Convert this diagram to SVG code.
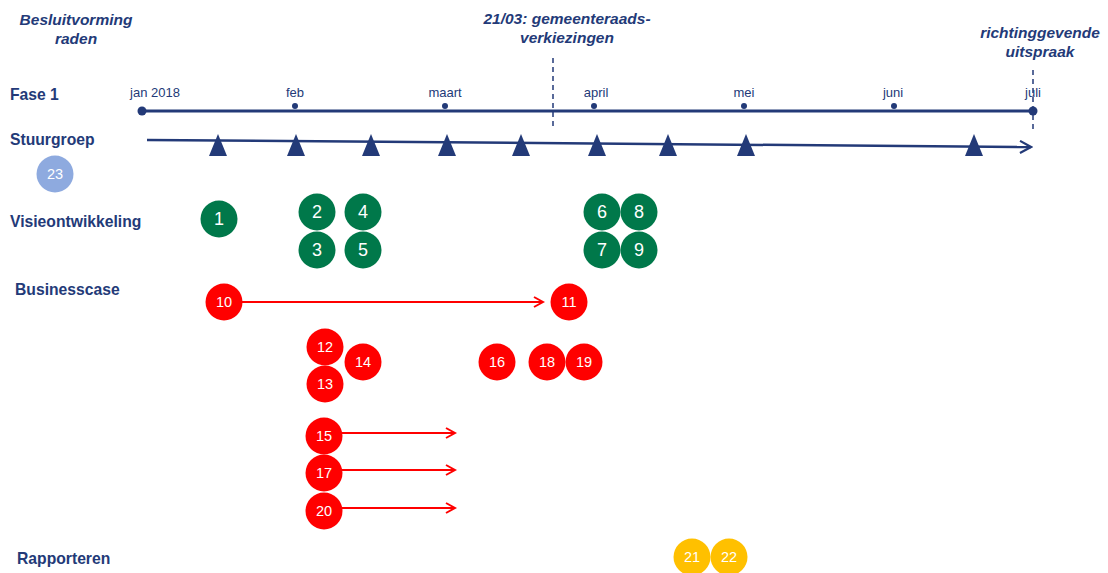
<svg xmlns="http://www.w3.org/2000/svg" width="1108" height="573" viewBox="0 0 1108 573">
<style>
.lbl{font-family:"Liberation Sans",Arial,sans-serif;font-weight:bold;font-size:15.7px;fill:#233a78}
.ann{font-family:"Liberation Sans",Arial,sans-serif;font-weight:bold;font-style:italic;font-size:15.5px;fill:#233a78;text-anchor:middle}
.mon{font-family:"Liberation Sans",Arial,sans-serif;font-size:13px;fill:#233a78;text-anchor:middle}
.g circle{fill:#00784a}
.r circle{fill:#ff0000}
.y circle{fill:#ffc000}
.b circle{fill:#8eaadf}
.g text{font-family:"Liberation Sans",Arial,sans-serif;font-size:18px;fill:#fff;text-anchor:middle}
.r text,.y text,.b text{font-family:"Liberation Sans",Arial,sans-serif;font-size:14.5px;fill:#fff;text-anchor:middle}
.tri{fill:#233a78}
.dash{stroke:#233a78;stroke-width:1.5;stroke-dasharray:5,4;fill:none}
</style>
<defs>
<marker id="ar" markerWidth="12" markerHeight="12" refX="10" refY="6" orient="auto" markerUnits="userSpaceOnUse">
<path d="M1,1 L10,6 L1,11" fill="none" stroke="#ff0000" stroke-width="2"/>
</marker>
<marker id="an" markerWidth="14" markerHeight="14" refX="12" refY="7" orient="auto" markerUnits="userSpaceOnUse">
<path d="M1,1 L12,7 L1,13" fill="none" stroke="#233a78" stroke-width="2.2"/>
</marker>
</defs>
<rect width="1108" height="573" fill="#fff"/>
<g id="annotations">
<text class="ann" x="76" y="25">Besluitvorming</text>
<text class="ann" x="76" y="44">raden</text>
<text class="ann" x="567" y="24">21/03: gemeenteraads-</text>
<text class="ann" x="567" y="43">verkiezingen</text>
<text class="ann" x="1040" y="38">richtinggevende</text>
<text class="ann" x="1040" y="57">uitspraak</text>
</g>
<g id="row-labels">
<text class="lbl" x="10" y="100">Fase 1</text>
<text class="lbl" x="10" y="145">Stuurgroep</text>
<text class="lbl" x="10" y="227">Visieontwikkeling</text>
<text class="lbl" x="15" y="295">Businesscase</text>
<text class="lbl" x="17" y="564">Rapporteren</text>
</g>
<g id="timeline">
<line x1="142" y1="111" x2="1033" y2="111" stroke="#233a78" stroke-width="3"/>
<circle cx="142" cy="111" r="4.5" fill="#233a78"/>
<circle cx="1033" cy="111" r="4.5" fill="#233a78"/>
<circle cx="295" cy="106" r="3" fill="#233a78"/>
<circle cx="445" cy="106" r="3" fill="#233a78"/>
<circle cx="594" cy="106" r="3" fill="#233a78"/>
<circle cx="744" cy="106" r="3" fill="#233a78"/>
<circle cx="894" cy="106" r="3" fill="#233a78"/>
<text class="mon" x="155" y="97">jan 2018</text>
<text class="mon" x="295" y="97">feb</text>
<text class="mon" x="445" y="97">maart</text>
<text class="mon" x="596" y="97">april</text>
<text class="mon" x="744" y="97">mei</text>
<text class="mon" x="893" y="97">juni</text>
<text class="mon" x="1033" y="97">juli</text>
<line class="dash" x1="553" y1="58" x2="553" y2="127"/>
<line class="dash" x1="1033" y1="70" x2="1033" y2="130"/>
</g>
<g id="stuurgroep">
<line x1="147" y1="140" x2="1031" y2="147" stroke="#233a78" stroke-width="2.5" marker-end="url(#an)"/>
<polygon class="tri" points="218,134 209,156 227,156"/>
<polygon class="tri" points="296,134 287,156 305,156"/>
<polygon class="tri" points="371,134 362,156 380,156"/>
<polygon class="tri" points="447,134 438,156 456,156"/>
<polygon class="tri" points="521,134 512,156 530,156"/>
<polygon class="tri" points="597,134 588,156 606,156"/>
<polygon class="tri" points="668,134 659,156 677,156"/>
<polygon class="tri" points="746,134 737,156 755,156"/>
<polygon class="tri" points="974,134 965,156 983,156"/>
</g>
<g id="connectors" stroke="#ff0000" stroke-width="2" fill="none">
<line x1="242" y1="302" x2="543" y2="302" marker-end="url(#ar)"/>
<line x1="342" y1="433" x2="455" y2="433" marker-end="url(#ar)"/>
<line x1="342" y1="470" x2="455" y2="470" marker-end="url(#ar)"/>
<line x1="342" y1="508" x2="455" y2="508" marker-end="url(#ar)"/>
</g>
<g id="n23" class="b"><circle cx="55" cy="174" r="18.5"/><text x="55" y="179">23</text></g>
<g id="n1" class="g"><circle cx="219" cy="219" r="18.5"/><text x="219" y="225">1</text></g>
<g id="n2" class="g"><circle cx="317" cy="212" r="18.5"/><text x="317" y="218">2</text></g>
<g id="n3" class="g"><circle cx="317" cy="250" r="18.5"/><text x="317" y="256">3</text></g>
<g id="n4" class="g"><circle cx="363" cy="212" r="18.5"/><text x="363" y="218">4</text></g>
<g id="n5" class="g"><circle cx="363" cy="250" r="18.5"/><text x="363" y="256">5</text></g>
<g id="n6" class="g"><circle cx="602" cy="212" r="18.5"/><text x="602" y="218">6</text></g>
<g id="n7" class="g"><circle cx="602" cy="250" r="18.5"/><text x="602" y="256">7</text></g>
<g id="n8" class="g"><circle cx="639" cy="212" r="18.5"/><text x="639" y="218">8</text></g>
<g id="n9" class="g"><circle cx="639" cy="250" r="18.5"/><text x="639" y="256">9</text></g>
<g id="n10" class="r"><circle cx="224" cy="302" r="18.5"/><text x="224" y="307">10</text></g>
<g id="n11" class="r"><circle cx="569" cy="302" r="18.5"/><text x="569" y="307">11</text></g>
<g id="n12" class="r"><circle cx="325" cy="347" r="18.5"/><text x="325" y="352">12</text></g>
<g id="n13" class="r"><circle cx="325" cy="384" r="18.5"/><text x="325" y="389">13</text></g>
<g id="n14" class="r"><circle cx="363" cy="362" r="18.5"/><text x="363" y="367">14</text></g>
<g id="n16" class="r"><circle cx="497" cy="362" r="18.5"/><text x="497" y="367">16</text></g>
<g id="n18" class="r"><circle cx="547" cy="362" r="18.5"/><text x="547" y="367">18</text></g>
<g id="n19" class="r"><circle cx="584" cy="362" r="18.5"/><text x="584" y="367">19</text></g>
<g id="n15" class="r"><circle cx="324" cy="436" r="18.5"/><text x="324" y="441">15</text></g>
<g id="n17" class="r"><circle cx="324" cy="473" r="18.5"/><text x="324" y="478">17</text></g>
<g id="n20" class="r"><circle cx="324" cy="511" r="18.5"/><text x="324" y="516">20</text></g>
<g id="n21" class="y"><circle cx="692" cy="557" r="18.5"/><text x="692" y="562">21</text></g>
<g id="n22" class="y"><circle cx="729" cy="557" r="18.5"/><text x="729" y="562">22</text></g>
</svg>
